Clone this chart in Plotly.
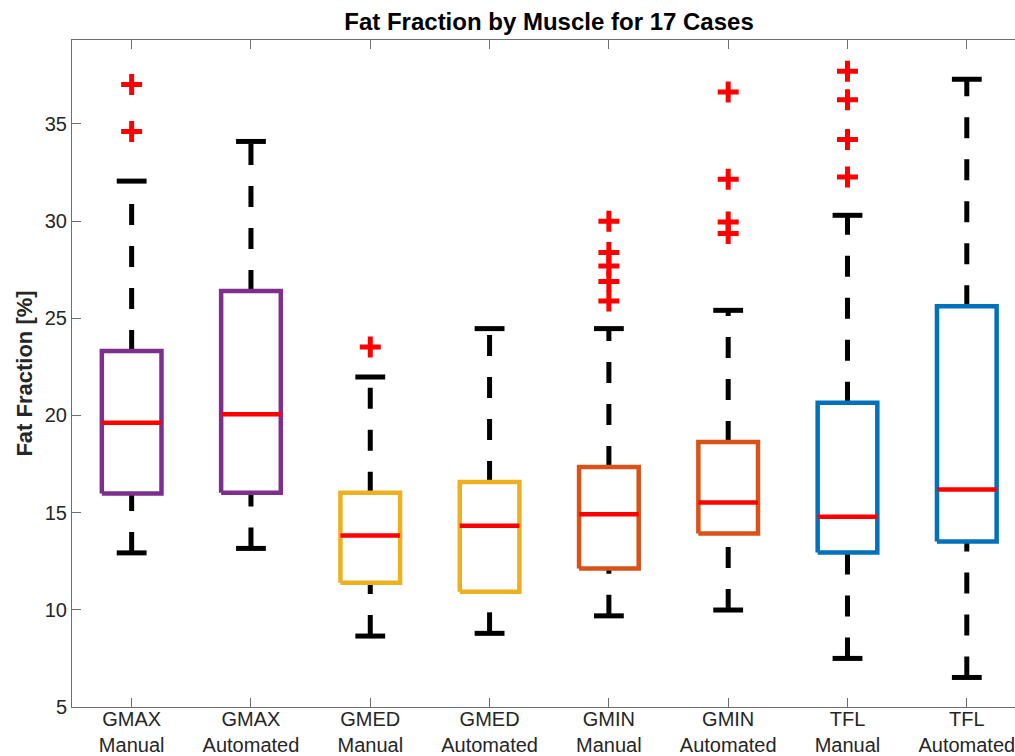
import plotly.graph_objects as go

# ---- data ----
categories = ["GMAX<br>Manual", "GMAX<br>Automated", "GMED<br>Manual", "GMED<br>Automated",
              "GMIN<br>Manual", "GMIN<br>Automated", "TFL<br>Manual", "TFL<br>Automated"]
lower_whisker = [12.93, 13.16, 8.65, 8.79, 9.69, 9.99, 7.50, 6.52]
q1 = [15.99, 16.02, 11.39, 10.93, 12.13, 13.93, 12.95, 13.51]
median = [19.62, 20.06, 13.83, 14.32, 14.92, 15.52, 14.79, 16.19]
q3 = [23.32, 26.40, 16.02, 16.58, 17.35, 18.64, 20.65, 25.62]
upper_whisker = [32.06, 34.10, 21.98, 24.47, 24.47, 25.41, 30.30, 37.30]
outliers = [
    [34.61, 37.03],
    [],
    [23.52],
    [],
    [25.89, 26.90, 27.69, 28.39, 29.99],
    [29.37, 29.95, 32.15, 36.64],
    [32.27, 34.20, 36.24, 37.71],
    [],
]
box_colors = ["#7E2F8E", "#7E2F8E", "#EDB120", "#EDB120",
              "#D95319", "#D95319", "#0072BD", "#0072BD"]

# ---- style ----
BOX_HALF = 0.25
CAP_HALF = 0.125
FONT = "Liberation Sans, Arial, Helvetica, sans-serif"
TXT = "#262626"
AXC = "#6e6e6e"

fig = go.Figure()
positions = list(range(1, len(categories) + 1))

for i, pos in enumerate(positions):
    # whiskers (drawn from low value to high value, dashed)
    for y0, y1 in ((lower_whisker[i], q1[i]), (q3[i], upper_whisker[i])):
        fig.add_trace(go.Scatter(x=[pos, pos], y=[y0, y1], mode="lines",
                                 line=dict(color="black", width=5, dash="21px,21px"),
                                 hoverinfo="skip"))
    # caps
    for yc in (lower_whisker[i], upper_whisker[i]):
        fig.add_trace(go.Scatter(x=[pos - CAP_HALF, pos + CAP_HALF], y=[yc, yc], mode="lines",
                                 line=dict(color="black", width=5), hoverinfo="skip"))
    # box
    fig.add_trace(go.Scatter(
        x=[pos - BOX_HALF, pos + BOX_HALF, pos + BOX_HALF, pos - BOX_HALF, pos - BOX_HALF],
        y=[q1[i], q1[i], q3[i], q3[i], q1[i]], mode="lines",
        line=dict(color=box_colors[i], width=4.5), hoverinfo="skip"))
    # median
    fig.add_trace(go.Scatter(x=[pos - BOX_HALF, pos + BOX_HALF], y=[median[i], median[i]],
                             mode="lines", line=dict(color="#FF0000", width=4.5),
                             hoverinfo="skip"))
    # outliers
    if outliers[i]:
        fig.add_trace(go.Scatter(x=[pos] * len(outliers[i]), y=outliers[i], mode="markers",
                                 marker=dict(symbol="cross-thin", size=15,
                                             line=dict(color="#FF0000", width=5)),
                                 hoverinfo="skip"))

fig.update_layout(
    width=1015, height=756,
    margin=dict(l=72, r=0, t=40, b=49, autoexpand=False),
    paper_bgcolor="white", plot_bgcolor="white",
    showlegend=False,
    font=dict(family=FONT, color=TXT),
    title=dict(text="<b>Fat Fraction by Muscle for 17 Cases</b>",
               font=dict(size=24, color="black", family=FONT),
               xref="container", x=549 / 1015, xanchor="center",
               yref="container", y=1 - 22 / 756, yanchor="middle"),
)
fig.update_xaxes(
    range=[0.5, 8.404], tickvals=positions, ticktext=categories,
    ticks="inside", ticklen=9, tickcolor=AXC, tickwidth=1,
    showline=True, linecolor=AXC, linewidth=1, mirror="ticks",
    showgrid=False, zeroline=False, automargin=False,
    ticklabeloverflow="allow", ticklabelstandoff=-6,
    tickfont=dict(size=20, color=TXT, family=FONT),
)
fig.update_yaxes(
    range=[5, 39.32], tickvals=[5, 10, 15, 20, 25, 30, 35],
    ticks="inside", ticklen=9, tickcolor=AXC, tickwidth=1,
    showline=True, linecolor=AXC, linewidth=1, mirror=False,
    showgrid=False, zeroline=False, automargin=False,
    tickfont=dict(size=20, color=TXT, family=FONT),
    title=dict(text="<b>Fat Fraction [%]</b>", font=dict(size=22, color=TXT, family=FONT),
               standoff=6),
)

fig.write_html(
    "out.html",
    config={"displayModeBar": False},
    post_script=("document.documentElement.style.overflow='hidden';"
                 "document.body.style.margin='0';document.body.style.overflow='hidden';"),
)
